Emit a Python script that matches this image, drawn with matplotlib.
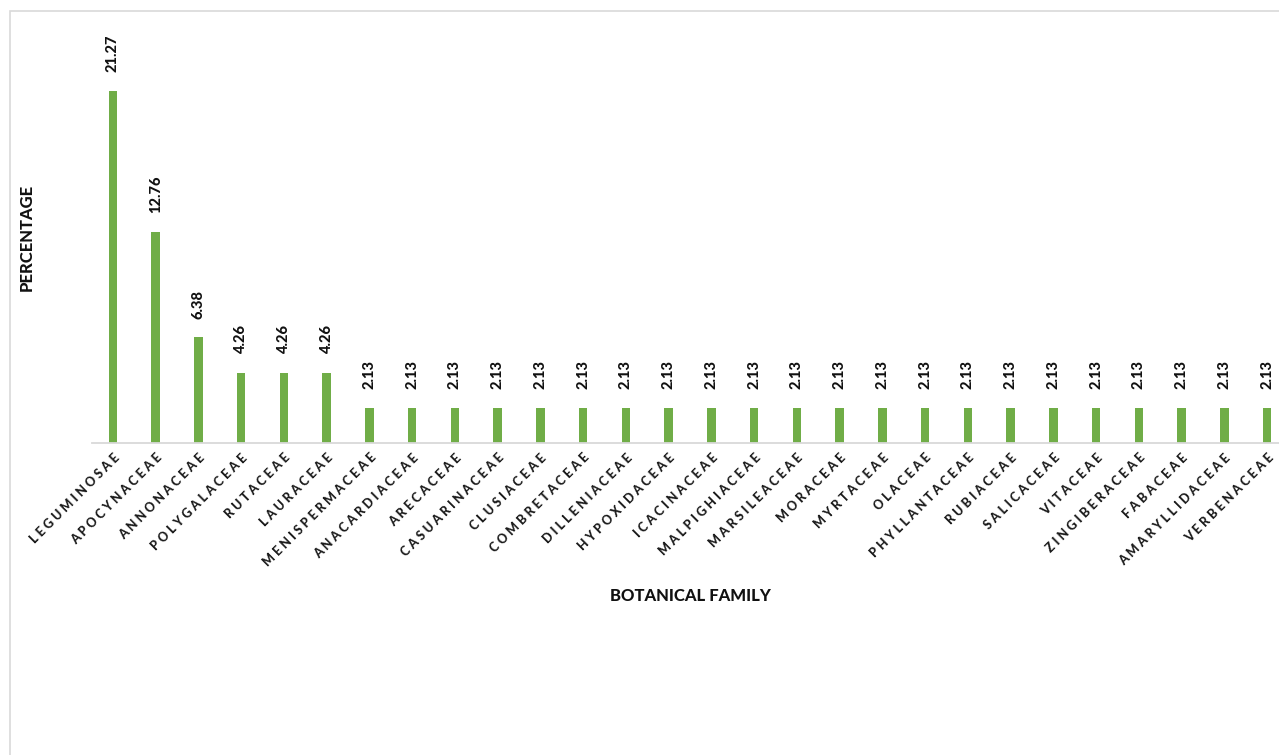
import matplotlib
matplotlib.use("Agg")
import matplotlib.pyplot as plt
from matplotlib.patches import Rectangle

families = ["LEGUMINOSAE", "APOCYNACEAE", "ANNONACEAE", "POLYGALACEAE", "RUTACEAE",
            "LAURACEAE", "MENISPERMACEAE", "ANACARDIACEAE", "ARECACEAE", "CASUARINACEAE",
            "CLUSIACEAE", "COMBRETACEAE", "DILLENIACEAE", "HYPOXIDACEAE", "ICACINACEAE",
            "MALPIGHIACEAE", "MARSILEACEAE", "MORACEAE", "MYRTACEAE", "OLACEAE",
            "PHYLLANTACEAE", "RUBIACEAE", "SALICACEAE", "VITACEAE", "ZINGIBERACEAE",
            "FABACEAE", "AMARYLLIDACEAE", "VERBENACEAE"]
percentages = [21.27, 12.76, 6.38, 4.26, 4.26, 4.26] + [2.13] * 22

W, H = 1279, 755
FONT = "Lato"
WEIGHT = 900
fig = plt.figure(figsize=(W / 100, H / 100), dpi=100)

# outer light border
fig.patches.append(Rectangle((9.5 / W, -0.1), 1.2, 1.1 - 11.5 / H,
                             transform=fig.transFigure, fill=False,
                             edgecolor="#d9d9d9", linewidth=1.2))

base_y = 443
top_y = 20
left_x = 91.6
right_x = 1288.5
ax = fig.add_axes([left_x / W, (H - base_y) / H, (right_x - left_x) / W, (base_y - top_y) / H])

x = list(range(len(families)))
ax.bar(x, percentages, width=0.2, color="#70AD47", zorder=2)
ax.set_xlim(-0.5, len(families) - 0.5)
px_per_unit = 352 / 21.27
ax.set_ylim(0, (base_y - top_y) / px_per_unit)

for s in ["left", "right", "top"]:
    ax.spines[s].set_visible(False)
ax.spines["bottom"].set_color("#d9d9d9")
ax.spines["bottom"].set_linewidth(1.3)
ax.set_yticks([])
ax.set_xticks(x)
ax.set_xticklabels([" ".join(f) for f in families], rotation=45, ha="right", va="top",
                   rotation_mode="anchor", fontsize=9, fontweight=WEIGHT,
                   family=FONT, color="#1a1a1a")
ax.tick_params(axis="x", length=0, pad=6)

for xi, v in zip(x, percentages):
    ax.annotate(f"{v:.2f}", (xi, v), xytext=(0, 13.5), textcoords="offset points",
                rotation=90, ha="center", va="bottom", fontsize=10.5, fontweight=WEIGHT,
                family=FONT, color="#111111")

fig.text(27 / W, 1 - 237 / H, "PERCENTAGE", rotation=90, ha="center", va="center",
         fontsize=12, fontweight=WEIGHT, family=FONT, color="#111111")
fig.text(690 / W, 1 - 596 / H, "BOTANICAL FAMILY", ha="center", va="center",
         fontsize=12, fontweight=WEIGHT, family=FONT, color="#111111")

fig.savefig("out.png", dpi=100)
